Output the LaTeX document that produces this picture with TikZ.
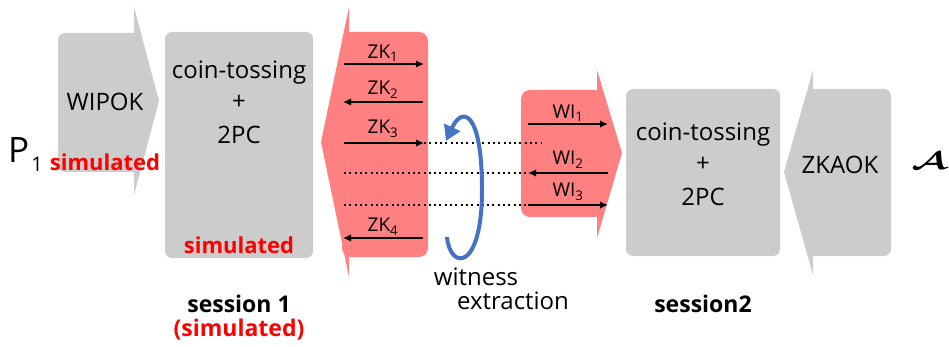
\documentclass[tikz,border=0pt]{standalone}
\usepackage{fontspec}
\usepackage{amsmath,amssymb}
\setmainfont{Open Sans}
\usetikzlibrary{arrows.meta}

\definecolor{boxgray}{HTML}{CCCCCC}
\definecolor{zkred}{HTML}{FF8080}
\definecolor{simred}{HTML}{FF0000}
\definecolor{loopblue}{HTML}{4472C4}

\tikzset{
  bigtext/.style={font=\fontsize{24}{28}\selectfont, inner sep=0pt},
  simtext/.style={font=\fontsize{22}{26}\selectfont\bfseries, text=simred, inner sep=0pt},
  captext/.style={font=\fontsize{23}{26}\selectfont\bfseries, inner sep=0pt},
  msgtext/.style={font=\fontsize{19}{21}\selectfont, inner sep=0pt},
  notetext/.style={font=\fontsize{24}{26}\selectfont, inner sep=0pt},
  msg/.style={line width=1.6pt, -{Latex[length=8pt,width=7.5pt]}},
  dotline/.style={line width=2pt, dash pattern=on 2pt off 3.3pt},
  graybody/.style={fill=boxgray, rounded corners=7pt},
  redbody/.style={fill=zkred, rounded corners=9pt},
}

\begin{document}
\begin{tikzpicture}[x=1pt,y=-1pt]
\useasboundingbox (0,0) rectangle (949,347);

% ---- WIPOK arrow (pointing right)
\fill[graybody] (58,33) rectangle (141,172);
\fill[boxgray] (134,7) -- (159,101) -- (134,195) -- cycle;
\node[bigtext] (wipok) at (105,102) {WIPOK};

% ---- session 1 block
\node[graybody, minimum width=148pt, minimum height=226pt, inner sep=0pt] (s1) at (239,145) {};
\node[bigtext] (s1a) at (239,73) {coin-tossing};
\node[bigtext] (s1b) at (239,102) {+};
\node[bigtext] (s1c) at (239,135) {2PC};
\node[simtext] (s1sim) at (239,245) {simulated};

% ---- ZK arrow (pointing left)
\fill[redbody] (342,32) rectangle (428,257);
\fill[zkred] (349,7) -- (321,142) -- (349,277) -- cycle;

% ---- WI arrow (pointing right)
\fill[redbody] (521,90) rectangle (604,217);
\fill[zkred] (597,70) -- (622,153) -- (597,238) -- cycle;

% ---- session 2 block
\node[graybody, minimum width=154pt, minimum height=167pt, inner sep=0pt] (s2) at (703,172.5) {};
\node[bigtext] (s2a) at (703,135) {coin-tossing};
\node[bigtext] (s2b) at (703,164) {+};
\node[bigtext] (s2c) at (703,197) {2PC};

% ---- ZKAOK arrow (pointing left)
\fill[graybody] (806,89) rectangle (891,256);
\fill[boxgray] (813,70) -- (784,172) -- (813,275) -- cycle;
\node[bigtext] (zkaok) at (840,165) {ZKAOK};

% ---- parties
\node[inner sep=0pt, anchor=base west] (p1) at (8,163)
  {\fontsize{35}{40}\selectfont P\kern2pt\raisebox{-9pt}{\fontsize{20}{22}\selectfont 1}};
\node[simtext] (p1sim) at (105,162) {simulated};
\node[inner sep=0pt] (adv) at (929,161)
  {\scalebox{1.55}[1]{\fontsize{27}{30}\selectfont\boldmath$\mathcal{A}$}};

% ---- message endpoints
\coordinate (zkL1) at (344,64);  \coordinate (zkR1) at (424,64);
\coordinate (zkL2) at (343,102); \coordinate (zkR2) at (423,102);
\coordinate (zkL3) at (344,143); \coordinate (zkR3) at (424,143);
\coordinate (zkL4) at (343,238); \coordinate (zkR4) at (423,238);
\coordinate (zkL5) at (344,173); \coordinate (zkL6) at (344,205);
\coordinate (dotE3) at (542,143);
\coordinate (wiL1) at (528,124); \coordinate (wiR1) at (608,124);
\coordinate (wiL2) at (528,173); \coordinate (wiR2) at (608,173);
\coordinate (wiL3) at (528,205); \coordinate (wiR3) at (608,205);

% ---- dotted continuations
\draw[dotline] (zkR3) -- (dotE3);
\draw[dotline] (zkL5) -- (wiL2);
\draw[dotline] (zkL6) -- (wiL3);

% ---- ZK messages
\draw[msg] (zkL1) -- (zkR1);
\draw[msg] (zkR2) -- (zkL2);
\draw[msg] (zkL3) -- (zkR3);
\draw[msg] (zkR4) -- (zkL4);
\node[msgtext] (zk1) at (383,53) {ZK\textsubscript{1}};
\node[msgtext] (zk2) at (383,90) {ZK\textsubscript{2}};
\node[msgtext] (zk3) at (383,129) {ZK\textsubscript{3}};
\node[msgtext] (zk4) at (383,227) {ZK\textsubscript{4}};

% ---- WI messages
\draw[msg] (wiL1) -- (wiR1);
\draw[msg] (wiR2) -- (wiL2);
\draw[msg] (wiL3) -- (wiR3);
\node[msgtext] (wi1) at (568,113) {WI\textsubscript{1}};
\node[msgtext] (wi2) at (568,160) {WI\textsubscript{2}};
\node[msgtext] (wi3) at (568,192) {WI\textsubscript{3}};

% ---- witness extraction loop
\coordinate (loopS) at (447,237);
\coordinate (loopM) at (482,190);
\coordinate (loopE) at (446,141);
\draw[loopblue, line width=4pt, -{Triangle[length=15pt,width=17pt]}]
  (loopS) .. controls (450,270) and (482,272) .. (loopM)
          .. controls (482,110) and (462,106) .. (loopE);
\node[notetext] (wit) at (476,277) {witness};
\node[notetext] (ext) at (513,301) {extraction};

% ---- captions
\node[captext] (cap1) at (239,304) {session 1};
\node[captext, text=simred] (cap1b) at (239,330) {(simulated)};
\node[captext] (cap2) at (703,304) {session2};
\end{tikzpicture}
\end{document}
